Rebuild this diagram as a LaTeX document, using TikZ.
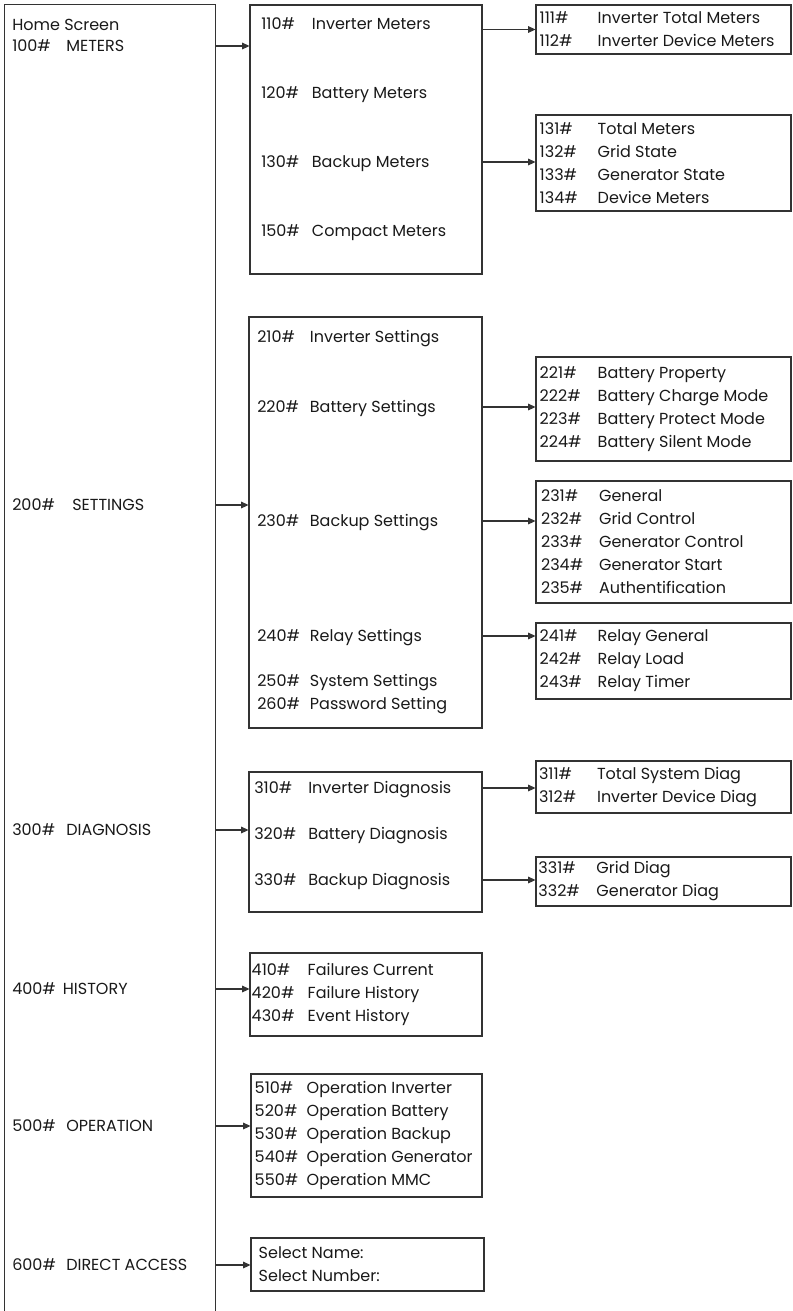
\documentclass[tikz,border=0pt]{standalone}
\usepackage{fontspec}
\setmainfont{Poppins}
\usetikzlibrary{arrows.meta,positioning,fit}

\newcommand{\menufont}{\fontsize{12}{17.25}\selectfont}
\newcommand{\mnum}[2]{\makebox[#1][l]{#2}}

\begin{document}
\begin{tikzpicture}[
  x=0.75pt,y=-0.75pt,
  frame/.style={draw=black!80,line width=0.8pt,inner sep=0pt},
  item/.style={anchor=west,inner sep=0pt,text height=8.5pt,text depth=0pt,
               font=\menufont,text=black!90},
  list/.style={inner sep=0pt,align=left,font=\menufont,text=black!90},
  arr/.style={-{Triangle[length=5.5pt,width=5pt]},line width=0.8pt,draw=black!80}
]
\useasboundingbox (0,0) rectangle (793,1311);

% home screen column
\node[fit={(5,5) (215,1311)},inner sep=0pt] (home) {};
\draw[black!80,line width=0.8pt] (home.south west) -- (home.north west)
  -- (home.north east) -- (home.south east);
\node[item] (lhome) at (12,25) {Home Screen};
\node[item] (l100) at (12,46) {\mnum{40.5pt}{100\#}METERS};
\node[item] (l200) at (12,505) {\mnum{45pt}{200\#}SETTINGS};
\node[item] (l300) at (12,830) {\mnum{40.5pt}{300\#}DIAGNOSIS};
\node[item] (l400) at (12,989) {\mnum{38pt}{400\#}HISTORY};
\node[item] (l500) at (12,1126) {\mnum{40.5pt}{500\#}OPERATION};
\node[item] (l600) at (12,1265) {\mnum{40.5pt}{600\#}DIRECT ACCESS};

% second level
\node[frame,fit={(250,5) (482,274)}] (box1) {};
\node[item] (t110) at (261,24) {\mnum{38pt}{110\#}Inverter Meters};
\node[item] (t120) at (261,93) {\mnum{38pt}{120\#}Battery Meters};
\node[item] (t130) at (261,162) {\mnum{38pt}{130\#}Backup Meters};
\node[item] (t150) at (261,231) {\mnum{38pt}{150\#}Compact Meters};

\node[frame,fit={(249,317) (482,728)}] (box2) {};
\node[item] (t210) at (257,337) {\mnum{39.5pt}{210\#}Inverter Settings};
\node[item] (t220) at (257,407) {\mnum{39.5pt}{220\#}Battery Settings};
\node[item] (t230) at (257,521) {\mnum{39.5pt}{230\#}Backup Settings};
\node[item] (t240) at (257,636) {\mnum{39.5pt}{240\#}Relay Settings};
\node[item] (t250) at (257,681) {\mnum{39.5pt}{250\#}System Settings};
\node[item] (t260) at (257,704) {\mnum{39.5pt}{260\#}Password Setting};

\node[frame,fit={(249,772) (482,912)}] (box3) {};
\node[item] (t310) at (254,788) {\mnum{40.5pt}{310\#}Inverter Diagnosis};
\node[item] (t320) at (254,834) {\mnum{40.5pt}{320\#}Battery Diagnosis};
\node[item] (t330) at (254,880) {\mnum{40.5pt}{330\#}Backup Diagnosis};

\node[frame,fit={(250,953) (482,1036)}] (box4) {};
\node[list,right=1.5pt of box4.west] (t400) {\mnum{42pt}{410\#}Failures Current\\
  \mnum{42pt}{420\#}Failure History\\\mnum{42pt}{430\#}Event History};

\node[frame,fit={(251,1074) (482,1197)}] (box5) {};
\node[list,right=3pt of box5.west] (t500) {\mnum{39pt}{510\#}Operation Inverter\\
  \mnum{39pt}{520\#}Operation Battery\\\mnum{39pt}{530\#}Operation Backup\\
  \mnum{39pt}{540\#}Operation Generator\\\mnum{39pt}{550\#}Operation MMC};

\node[frame,fit={(251,1238) (484,1291)}] (box6) {};
\node[list,right=6pt of box6.west] (t600) {Select Name:\\Select Number:};

% third level
\node[frame,fit={(536,5) (791,54)}] (r11) {};
\node[list,right=3pt of r11.west] {\mnum{43.5pt}{111\#}Inverter Total Meters\\
  \mnum{43.5pt}{112\#}Inverter Device Meters};

\node[frame,fit={(536,115) (791,211)}] (r13) {};
\node[list,right=3pt of r13.west] {\mnum{43.5pt}{131\#}Total Meters\\
  \mnum{43.5pt}{132\#}Grid State\\\mnum{43.5pt}{133\#}Generator State\\
  \mnum{43.5pt}{134\#}Device Meters};

\node[frame,fit={(536,357) (791,461)}] (r22) {};
\node[list,right=3pt of r22.west] {\mnum{43.5pt}{221\#}Battery Property\\
  \mnum{43.5pt}{222\#}Battery Charge Mode\\\mnum{43.5pt}{223\#}Battery Protect Mode\\
  \mnum{43.5pt}{224\#}Battery Silent Mode};

\node[frame,fit={(536,481) (791,603)}] (r23) {};
\node[list,right=4pt of r23.west] {\mnum{43.5pt}{231\#}General\\
  \mnum{43.5pt}{232\#}Grid Control\\\mnum{43.5pt}{233\#}Generator Control\\
  \mnum{43.5pt}{234\#}Generator Start\\\mnum{43.5pt}{235\#}Authentification};

\node[frame,fit={(536,623) (791,699)}] (r24) {};
\node[list,right=3pt of r24.west] {\mnum{43.5pt}{241\#}Relay General\\
  \mnum{43.5pt}{242\#}Relay Load\\\mnum{43.5pt}{243\#}Relay Timer};

\node[frame,fit={(536,761) (791,813)}] (r31) {};
\node[list,right=2.5pt of r31.west] {\mnum{43.5pt}{311\#}Total System Diag\\
  \mnum{43.5pt}{312\#}Inverter Device Diag};

\node[frame,fit={(536,857) (791,906)}] (r33) {};
\node[list,right=2pt of r33.west] {\mnum{43.5pt}{331\#}Grid Diag\\
  \mnum{43.5pt}{332\#}Generator Diag};

% arrows
\draw[arr] (l100 -| home.east) -- (l100 -| box1.west);
\draw[arr] (l200 -| home.east) -- (l200 -| box2.west);
\draw[arr] (l300 -| home.east) -- (l300 -| box3.west);
\draw[arr] (l400 -| home.east) -- (l400 -| box4.west);
\draw[arr] (l500 -| home.east) -- (l500 -| box5.west);
\draw[arr] (l600 -| home.east) -- (l600 -| box6.west);

\draw[arr] (box1.east |- r11.west) -- (r11.west);
\draw[arr] (t130 -| box1.east) -- (t130 -| r13.west);
\draw[arr] (t220 -| box2.east) -- (t220 -| r22.west);
\draw[arr] (t230 -| box2.east) -- (t230 -| r23.west);
\draw[arr] (t240 -| box2.east) -- (t240 -| r24.west);
\draw[arr] (t310 -| box3.east) -- (t310 -| r31.west);
\draw[arr] (t330 -| box3.east) -- (t330 -| r33.west);
\end{tikzpicture}
\end{document}
